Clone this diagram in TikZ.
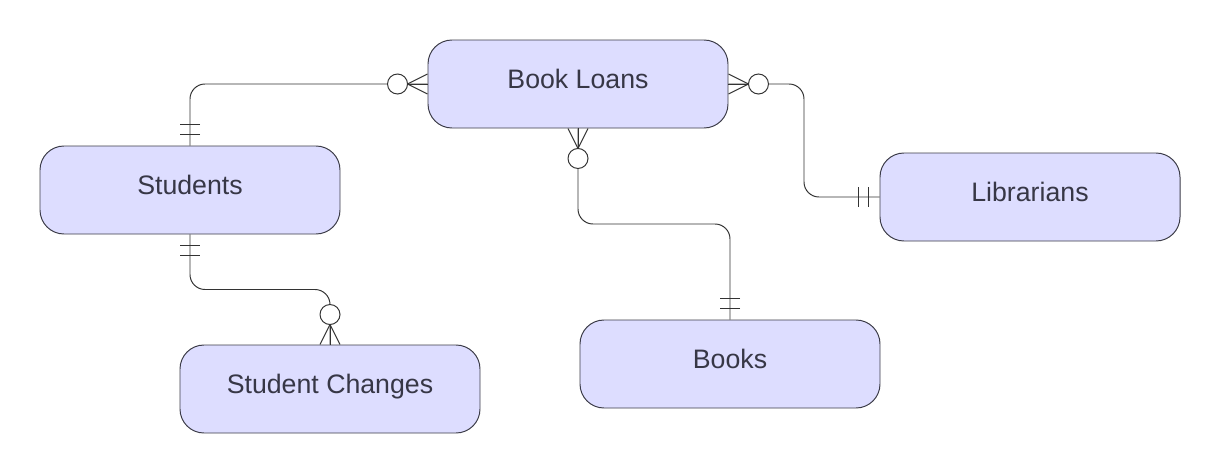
\documentclass[tikz,border=0pt]{standalone}
\usepackage{fontspec}
\setmainfont{Liberation Sans}
\usetikzlibrary{positioning, calc}

\definecolor{entityfill}{RGB}{221,221,255}
\definecolor{entityline}{RGB}{60,60,72}
\definecolor{linkline}{RGB}{51,51,51}
\definecolor{labeltext}{RGB}{55,55,70}

\tikzset{
  entity/.style={draw=entityline, fill=entityfill, rounded corners=0.6cm,
    minimum width=7.5cm, minimum height=2.2cm, line width=0.7pt,
    text height=0.5cm, text depth=0.3cm,
    text=labeltext, font=\fontsize{19}{23}\selectfont},
  link/.style={draw=linkline, line width=0.7pt, rounded corners=0.375cm},
  % exactly one: two bars
  onlyone/.pic={
    \foreach \d in {0.275,0.525}
      \draw[draw=linkline, line width=0.7pt] (\d,-0.25) -- (\d,0.25);
  },
  % zero or many: crow foot and circle
  zeromany/.pic={
    \foreach \s in {-0.25,0,0.25}
      \draw[draw=linkline, line width=0.7pt] (0,\s) -- (0.5,0);
    \draw[draw=linkline, fill=white, line width=0.7pt] (0.75,0) circle (0.25);
  }
}

\begin{document}
\begin{tikzpicture}
  \useasboundingbox (0,0) rectangle (30.5,11.85);

  % Entities
  \node[entity] (loans) at (14.45,9.75) {Book Loans};
  \node[entity] (students) at (4.75,7.1) {Students};
  \node[entity] (librarians) at (25.75,6.925) {Librarians};
  \node[entity] (books) at (18.25,2.75) {Books};
  \node[entity] (changes) at (8.25,2.125) {Student Changes};

  % Relationships
  \draw[link] (students.north) |- (loans.west);
  \coordinate (mlib) at ($(loans.east)!0.5!(librarians.west)$);
  \draw[link] (loans.east) -| (mlib) |- (librarians.west);
  \coordinate (mbook) at ($(loans.south)!0.5!(books.north)$);
  \draw[link] (loans.south) |- (mbook) -| (books.north);
  \coordinate (mchg) at ($(students.south)!0.5!(changes.north)$);
  \draw[link] (students.south) |- (mchg) -| (changes.north);

  % Cardinality markers
  \pic[rotate=90] at (students.north) {onlyone};
  \pic[rotate=180] at (loans.west) {zeromany};
  \pic at (loans.east) {zeromany};
  \pic[rotate=180] at (librarians.west) {onlyone};
  \pic[rotate=-90] at (loans.south) {zeromany};
  \pic[rotate=90] at (books.north) {onlyone};
  \pic[rotate=-90] at (students.south) {onlyone};
  \pic[rotate=90] at (changes.north) {zeromany};
\end{tikzpicture}
\end{document}
